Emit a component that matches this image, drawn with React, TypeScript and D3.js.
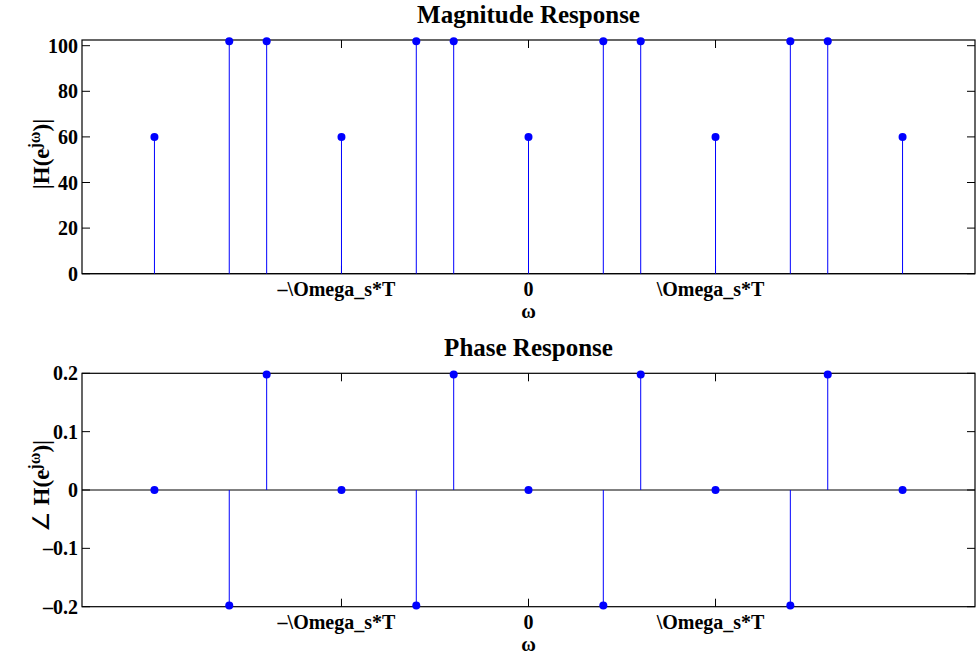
import React from "react";
import * as d3 from "d3";

const omegaPi = [-4, -3.2, -2.8, -2, -1.2, -0.8, 0, 0.8, 1.2, 2, 2.8, 3.2, 4];
const magnitude = [60, 102, 102, 60, 102, 102, 60, 102, 102, 60, 102, 102, 60];
const phase = [0, -0.198, 0.198, 0, -0.198, 0.198, 0, -0.198, 0.198, 0, -0.198, 0.198, 0];
const xTickValues = [-2 * Math.PI, 0, 2 * Math.PI];
const xTickLabels = ["\u2013\\Omega_s*T", "0", "\\Omega_s*T"];
const magTicks = [0, 20, 40, 60, 80, 100];
const phaseTicks = [-0.2, -0.1, 0, 0.1, 0.2];
const phaseTickLabels = ["\u20130.2", "\u20130.1", "0", "0.1", "0.2"];

const W = 976;
const H = 655;
const FONT = "'Liberation Serif', 'Times New Roman', serif";
const BLUE = "#0000ff";

const left = 82;
const right = 975;

interface PanelProps {
  top: number;
  bottom: number;
  domain: [number, number];
  values: number[];
  yTicks: number[];
  yTickLabels: string[];
  title: string;
  yLabel: React.ReactNode;
  yLabelCenter: number;
  baseline: number;
}

function Panel(p: PanelProps) {
  const x = d3.scaleLinear().domain([-15, 15]).range([left, right]);
  const y = d3.scaleLinear().domain(p.domain).range([p.bottom, p.top]);
  const tickLen = 8;
  const y0 = y(p.baseline);
  const cx = x(0);
  return (
    <g>
      <text x={cx} y={p.top - 17} textAnchor="middle" fontFamily={FONT} fontWeight="bold" fontSize={25}>
        {p.title}
      </text>
      {/* baseline */}
      <line x1={left} x2={right} y1={y0} y2={y0} stroke="#000" strokeWidth={1} />
      {/* box */}
      <rect x={left} y={p.top} width={right - left} height={p.bottom - p.top} fill="none" stroke="#000" strokeWidth={1.2} />
      {/* x ticks */}
      {xTickValues.map((v, i) => (
        <g key={"xt" + i}>
          <line x1={x(v)} x2={x(v)} y1={p.bottom} y2={p.bottom - tickLen} stroke="#000" strokeWidth={1} />
          <line x1={x(v)} x2={x(v)} y1={p.top} y2={p.top + tickLen} stroke="#000" strokeWidth={1} />
          <text x={x(v) - (i === 1 ? 0 : 5)} y={p.bottom + 22} textAnchor="middle" fontFamily={FONT} fontWeight="bold" fontSize={20}>
            {xTickLabels[i]}
          </text>
        </g>
      ))}
      {/* stems */}
      {omegaPi.map((w, i) => (
        <line key={"s" + i} x1={x(w * Math.PI)} x2={x(w * Math.PI)} y1={y0} y2={y(p.values[i])} stroke={BLUE} strokeWidth={1} />
      ))}
      {/* y ticks */}
      {p.yTicks.map((v, i) => (
        <g key={"yt" + i}>
          <line x1={left} x2={left + tickLen} y1={y(v)} y2={y(v)} stroke="#000" strokeWidth={1} />
          <line x1={right} x2={right - tickLen} y1={y(v)} y2={y(v)} stroke="#000" strokeWidth={1} />
          <text x={left - 4} y={y(v) + 7} textAnchor="end" fontFamily={FONT} fontWeight="bold" fontSize={20}>
            {p.yTickLabels[i]}
          </text>
        </g>
      ))}
      {/* dots */}
      {omegaPi.map((w, i) => (
        <circle key={"d" + i} cx={x(w * Math.PI)} cy={y(p.values[i])} r={4} fill={BLUE} />
      ))}
      {/* x label */}
      <text x={cx} y={p.bottom + 44} textAnchor="middle" fontFamily={FONT} fontWeight="bold" fontSize={20}>
        ω
      </text>
      {/* y label */}
      <text transform={`translate(49,${p.yLabelCenter}) rotate(-90)`} textAnchor="middle" fontFamily={FONT} fontWeight="bold" fontSize={23}>
        {p.yLabel}
      </text>
    </g>
  );
}

export default function App() {
  return (
    <svg width={W} height={H} style={{ position: "absolute", left: 0, top: 0, background: "#fff" }}>
      <rect width={W} height={H} fill="#fff" />
      <Panel
        top={40}
        bottom={273.7}
        domain={[0, 102.5]}
        values={magnitude}
        yTicks={magTicks}
        yTickLabels={magTicks.map(String)}
        title="Magnitude Response"
        yLabel={
          <>
            <tspan>|H(e</tspan>
            <tspan fontSize={16} dy={-9}>jω</tspan>
            <tspan dy={9}>)|</tspan>
          </>
        }
        yLabelCenter={154}
        baseline={0}
      />
      <Panel
        top={373.3}
        bottom={606.7}
        domain={[-0.2, 0.2]}
        values={phase}
        yTicks={phaseTicks}
        yTickLabels={phaseTickLabels}
        title="Phase Response"
        yLabel={
          <>
            <tspan fontWeight="normal">∠ </tspan>
            <tspan>H(e</tspan>
            <tspan fontSize={16} dy={-9}>jω</tspan>
            <tspan dy={9}>)|</tspan>
          </>
        }
        yLabelCenter={486}
        baseline={0}
      />
    </svg>
  );
}
